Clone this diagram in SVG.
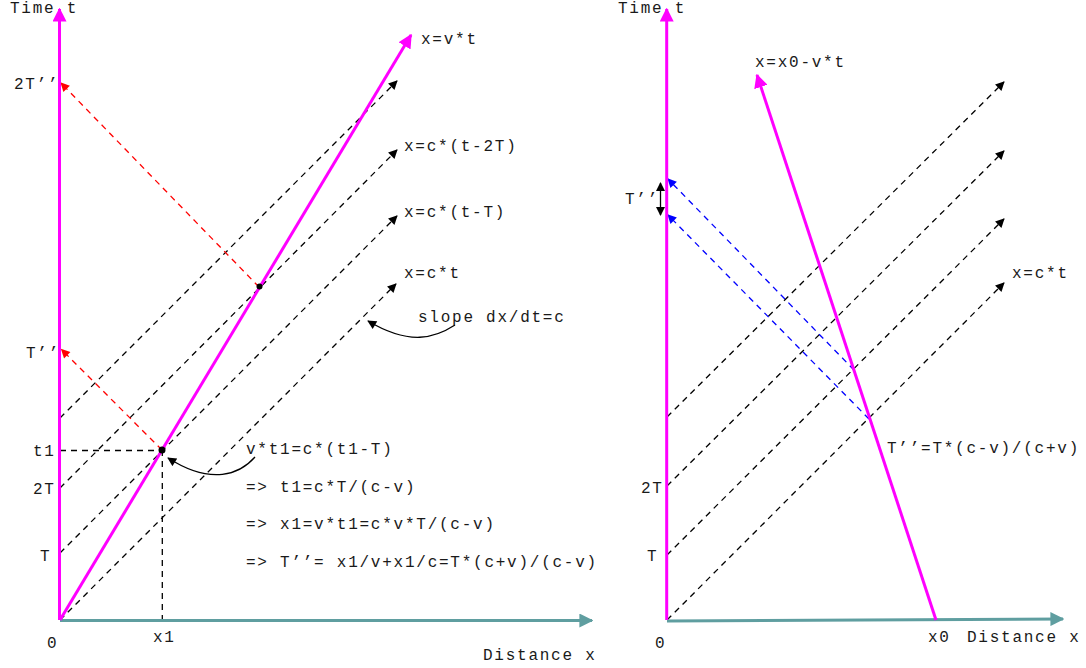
<svg xmlns="http://www.w3.org/2000/svg" width="1086" height="668" viewBox="0 0 1086 668">
<style>
text{font-family:"Liberation Mono","Courier New",monospace;font-size:16px;letter-spacing:1.75px;fill:#1a1a1a}
.mag{stroke:#ff00ff;stroke-width:3;fill:none}
.teal{stroke:#5f9ea0;stroke-width:3;fill:none}
.dash{stroke:#000;stroke-width:1.3;stroke-dasharray:6,5;fill:none}
.red{stroke:#ff0000;stroke-width:1.3;stroke-dasharray:6,5;fill:none}
.blue{stroke:#0000ff;stroke-width:1.3;stroke-dasharray:6,5;fill:none}
.thin{stroke:#000;stroke-width:1.3;fill:none}
</style>
<defs>
<marker id="aMag" viewBox="0 0 10 10" refX="9" refY="5" markerWidth="14" markerHeight="14" markerUnits="userSpaceOnUse" orient="auto"><path d="M0,0L10,5L0,10z" fill="#ff00ff"/></marker>
<marker id="aTeal" viewBox="0 0 10 10" refX="9" refY="5" markerWidth="14" markerHeight="14" markerUnits="userSpaceOnUse" orient="auto"><path d="M0,0L10,5L0,10z" fill="#5f9ea0"/></marker>
<marker id="aBlk" viewBox="0 0 10 10" refX="9" refY="5" markerWidth="11" markerHeight="9" markerUnits="userSpaceOnUse" orient="auto"><path d="M0,0L10,5L0,10z" fill="#000"/></marker>
<marker id="aBlkS" viewBox="0 0 10 10" refX="1" refY="5" markerWidth="11" markerHeight="9" markerUnits="userSpaceOnUse" orient="auto"><path d="M10,0L0,5L10,10z" fill="#000"/></marker>
<marker id="aRed" viewBox="0 0 10 10" refX="9" refY="5" markerWidth="11" markerHeight="9" markerUnits="userSpaceOnUse" orient="auto"><path d="M0,0L10,5L0,10z" fill="#ff0000"/></marker>
<marker id="aBlue" viewBox="0 0 10 10" refX="9" refY="5" markerWidth="11" markerHeight="9" markerUnits="userSpaceOnUse" orient="auto"><path d="M0,0L10,5L0,10z" fill="#0000ff"/></marker>
</defs>

<g id="connectors">
<!-- left panel -->
<line class="dash" x1="60" y1="620" x2="396" y2="284" marker-end="url(#aBlk)"/>
<line class="dash" x1="60" y1="553" x2="397" y2="216" marker-end="url(#aBlk)"/>
<line class="dash" x1="60" y1="488" x2="397" y2="150" marker-end="url(#aBlk)"/>
<line class="dash" x1="60" y1="418" x2="397" y2="81" marker-end="url(#aBlk)"/>
<line class="dash" x1="60" y1="450.5" x2="162" y2="450.5"/>
<line class="dash" x1="162.3" y1="450" x2="162.3" y2="620"/>
<line class="red" x1="162" y1="450" x2="61.5" y2="349.5" marker-end="url(#aRed)"/>
<line class="red" x1="259" y1="287" x2="61" y2="83" marker-end="url(#aRed)"/>
<line class="teal" x1="60" y1="620.5" x2="592" y2="620.5" marker-end="url(#aTeal)"/>
<line class="mag" x1="59.5" y1="620" x2="59.5" y2="9" marker-end="url(#aMag)"/>
<line class="mag" x1="60" y1="620" x2="411" y2="35" marker-end="url(#aMag)"/>
<circle cx="162" cy="450" r="3.5" fill="#000"/>
<circle cx="259.5" cy="286.5" r="3" fill="#000"/>
<path class="thin" d="M455,325 C435,338 410,346 368,321" marker-end="url(#aBlk)"/>
<path class="thin" d="M255,457 C240,474 212,486 168,458" marker-end="url(#aBlk)"/>
<!-- right panel -->
<line class="dash" x1="667" y1="620" x2="1004" y2="283" marker-end="url(#aBlk)"/>
<line class="dash" x1="667" y1="555" x2="1004" y2="219" marker-end="url(#aBlk)"/>
<line class="dash" x1="667" y1="486" x2="1004" y2="151" marker-end="url(#aBlk)"/>
<line class="dash" x1="667" y1="417" x2="1004" y2="82" marker-end="url(#aBlk)"/>
<line class="blue" x1="854" y1="370" x2="668" y2="179" marker-end="url(#aBlue)"/>
<line class="blue" x1="869" y1="419" x2="668" y2="215" marker-end="url(#aBlue)"/>
<line class="thin" x1="660.5" y1="183" x2="660.5" y2="215" marker-start="url(#aBlkS)" marker-end="url(#aBlk)"/>
<line class="teal" x1="667" y1="621" x2="1063" y2="619" marker-end="url(#aTeal)"/>
<line class="mag" x1="666.7" y1="620" x2="666.7" y2="9" marker-end="url(#aMag)"/>
<line class="mag" x1="936" y1="620" x2="757" y2="75" marker-end="url(#aMag)"/>
</g>

<g id="labels-left">
<text x="10" y="13">Time t</text>
<text x="14" y="89">2T’’</text>
<text x="26" y="358">T’’</text>
<text x="33" y="456">t1</text>
<text x="33" y="494">2T</text>
<text x="40" y="561">T</text>
<text x="47" y="648">0</text>
<text x="153" y="642">x1</text>
<text x="483" y="660">Distance x</text>
<text x="421" y="44">x=v*t</text>
<text x="404" y="151">x=c*(t-2T)</text>
<text x="404" y="217">x=c*(t-T)</text>
<text x="404" y="278">x=c*t</text>
<text x="418" y="322">slope dx/dt=c</text>
<text x="246" y="454">v*t1=c*(t1-T)</text>
<text x="246" y="492">=&gt; t1=c*T/(c-v)</text>
<text x="246" y="529">=&gt; x1=v*t1=c*v*T/(c-v)</text>
<text x="246" y="567">=&gt; T’’= x1/v+x1/c=T*(c+v)/(c-v)</text>
</g>
<g id="labels-right">
<text x="618" y="13">Time t</text>
<text x="755" y="67">x=x0-v*t</text>
<text x="625" y="204">T’’</text>
<text x="1012" y="278">x=c*t</text>
<text x="887" y="453">T’’=T*(c-v)/(c+v)</text>
<text x="641" y="493">2T</text>
<text x="647" y="561">T</text>
<text x="655" y="648">0</text>
<text x="928" y="642">x0</text>
<text x="967" y="642">Distance x</text>
</g>
</svg>
